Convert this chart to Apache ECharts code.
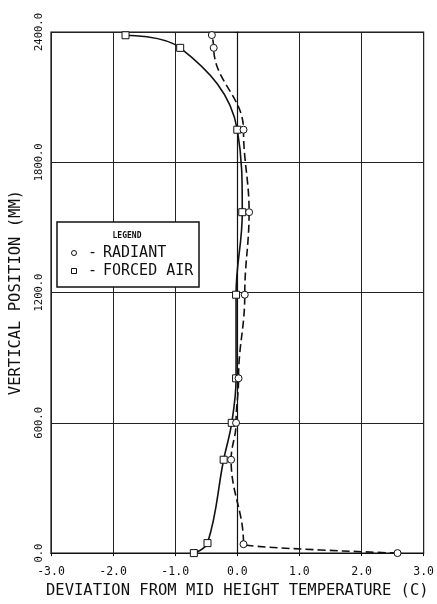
<!DOCTYPE html>
<html>
<head>
<meta charset="utf-8">
<script src="https://cdn.jsdelivr.net/npm/echarts@6/dist/echarts.min.js"></script>
<style>
html,body{margin:0;padding:0;background:#fff;}
#chart{width:437px;height:604px;}
</style>
</head>
<body>
<div id="chart"></div>
<script>
// Data: [deviation (C), vertical position (mm)]
const forcedAir = [
  [-0.70, 0], [-0.48, 46], [-0.22, 430], [-0.09, 600], [-0.02, 805],
  [-0.02, 1190], [0.08, 1570], [0.00, 1950], [-0.92, 2327], [-1.80, 2385]
];
const radiant = [
  [2.58, 0], [0.10, 41], [-0.10, 430], [-0.02, 600], [0.02, 805],
  [0.12, 1190], [0.19, 1570], [0.10, 1950], [-0.38, 2327], [-0.41, 2386]
];
const xTicks = [-3, -2, -1, 0, 1, 2, 3];
const yTicks = [0, 600, 1200, 1800, 2400];
const xTitle = 'DEVIATION FROM MID HEIGHT TEMPERATURE (C)';
const yTitle = 'VERTICAL POSITION (MM)';
const legendTitle = 'LEGEND';
const legendNames = ['RADIANT', 'FORCED AIR'];

const FONT = 'DejaVu Sans Mono';
const chart = echarts.init(document.getElementById('chart'), null, {renderer: 'canvas'});
chart.setOption({
  animation: false,
  backgroundColor: '#fff',
  grid: {left: 49, right: 8, top: 32, bottom: 45, show: true, borderColor: '#111', borderWidth: 1.2},
  xAxis: {
    type: 'value', min: xTicks[0], max: xTicks[xTicks.length - 1], interval: 1,
    name: xTitle, nameLocation: 'middle', nameGap: 29,
    nameTextStyle: {fontFamily: FONT, fontSize: 15.5, color: '#111'},
    axisLine: {lineStyle: {color: '#111', width: 1.2}},
    axisTick: {show: true, length: 3, inside: false, lineStyle: {color: '#111'}},
    axisLabel: {fontFamily: FONT, fontSize: 11.5, color: '#111', margin: 13,
      formatter: v => v.toFixed(1)},
    splitLine: {show: true, lineStyle: {color: '#222', width: 1}}
  },
  yAxis: {
    type: 'value', min: yTicks[0], max: yTicks[yTicks.length - 1], interval: 600,
    name: yTitle, nameLocation: 'middle', nameGap: 27, nameRotate: 90,
    nameTextStyle: {fontFamily: FONT, fontSize: 15.5, color: '#111'},
    axisLine: {lineStyle: {color: '#111', width: 1.2}},
    axisTick: {show: true, length: 3, lineStyle: {color: '#111'}},
    axisLabel: {fontFamily: FONT, fontSize: 10.5, color: '#111', rotate: 90, margin: 6,
      formatter: v => v.toFixed(1)},
    splitLine: {show: true, lineStyle: {color: '#222', width: 1}}
  },
  series: [
    {
      name: legendNames[1], type: 'line', data: forcedAir, smooth: 0.4,
      symbol: 'rect', symbolSize: 7,
      itemStyle: {color: '#fff', borderColor: '#111', borderWidth: 1},
      lineStyle: {color: '#111', width: 1.6}
    },
    {
      name: legendNames[0], type: 'line', data: radiant, smooth: 0.4, smoothMonotone: 'y',
      symbol: 'circle', symbolSize: 7,
      itemStyle: {color: '#fff', borderColor: '#111', borderWidth: 1},
      lineStyle: {color: '#111', width: 1.6, type: [8, 4]}
    }
  ],
  graphic: [
    {type: 'rect', z: 100, shape: {x: 57, y: 222, width: 142, height: 65},
      style: {fill: '#fff', stroke: '#111', lineWidth: 1.5}},
    {type: 'text', z: 101, x: 127, y: 236,
      style: {text: legendTitle, font: 'bold 8px ' + FONT, fill: '#111', align: 'center', verticalAlign: 'middle'}},
    {type: 'circle', z: 101, shape: {cx: 74, cy: 253, r: 2.5},
      style: {fill: '#fff', stroke: '#111', lineWidth: 1}},
    {type: 'rect', z: 101, shape: {x: 71.5, y: 268.5, width: 5, height: 5},
      style: {fill: '#fff', stroke: '#111', lineWidth: 1}},
    {type: 'text', z: 101, x: 88, y: 253,
      style: {text: '-', font: '15px ' + FONT, fill: '#111', verticalAlign: 'middle'}},
    {type: 'text', z: 101, x: 88, y: 271,
      style: {text: '-', font: '15px ' + FONT, fill: '#111', verticalAlign: 'middle'}},
    {type: 'text', z: 101, x: 103, y: 253,
      style: {text: legendNames[0], font: '15px ' + FONT, fill: '#111', verticalAlign: 'middle'}},
    {type: 'text', z: 101, x: 103, y: 271,
      style: {text: legendNames[1], font: '15px ' + FONT, fill: '#111', verticalAlign: 'middle'}}
  ]
});
</script>
</body>
</html>
